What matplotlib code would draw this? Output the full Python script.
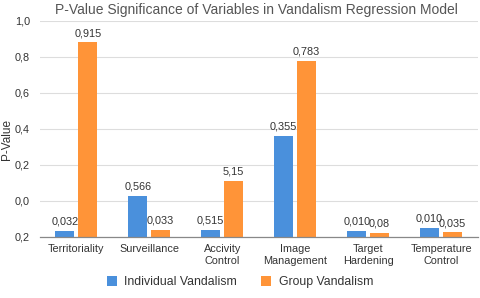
import numpy as np
import matplotlib
matplotlib.use('Agg')
import matplotlib.pyplot as plt

# ---------------------------------------------------------
# Data (bar heights as drawn, labels as printed)
# ---------------------------------------------------------
categories = ["Territoriality", "Surveillance", "Accivity\nControl",
              "Image\nManagement", "Target\nHardening", "Temperature\nControl"]
individual = [0.032, 0.228, 0.036, 0.559, 0.032, 0.050]
group = [1.080, 0.037, 0.311, 0.978, 0.022, 0.024]
individual_labels = ["0,032", "0,566", "0,515", "0,355", "0,010", "0,010"]
group_labels = ["0,915", "0,033", "5,15", "0,783", "0,08", "0,035"]
ytick_labels = ["0,2", "0,0", "0,2", "0,4", "0,6", "0,8", "1,0"]

plt.rcParams['font.family'] = ['Liberation Sans', 'DejaVu Sans']

blue = '#4a90dc'
orange = '#ff9438'
text_col = '#333333'

fig = plt.figure(figsize=(4.8, 2.98), dpi=100)
ax = fig.add_axes([0.083, 0.206, 0.912, 0.724])

x = np.arange(len(categories))
w = 0.26
off = 0.157
b1 = ax.bar(x - off, individual, w, color=blue, zorder=3)
b2 = ax.bar(x + off, group, w, color=orange, zorder=3)

for bars, labels in ((b1, individual_labels), (b2, group_labels)):
    for rect, lab in zip(bars, labels):
        ax.annotate(lab, (rect.get_x() + rect.get_width() / 2, rect.get_height()),
                    xytext=(0, 3), textcoords='offset points',
                    ha='center', va='bottom', fontsize=7.8, color=text_col)

ax.set_xlim(-0.5, len(categories) - 0.5)
ax.set_ylim(0, 1.2)
ax.set_yticks(np.linspace(0, 1.2, 7))
ax.set_yticklabels(ytick_labels)
ax.set_xticks(x)
ax.set_xticklabels(categories, fontsize=7.8, color=text_col, linespacing=1.25)
ax.tick_params(axis='y', length=0, labelsize=7.8, labelcolor=text_col, pad=7)
ax.tick_params(axis='x', length=0, pad=5)
ax.grid(axis='y', color='#dddddd', linewidth=0.8, zorder=0)
for s in ('top', 'right', 'left'):
    ax.spines[s].set_visible(False)
ax.spines['bottom'].set_color('#888888')
ax.spines['bottom'].set_linewidth(0.9)
ax.spines['bottom'].set_zorder(4)

ax.set_ylabel("P-Value", fontsize=8.5, color=text_col)
ax.yaxis.set_label_coords(-0.062, 0.45)
fig.text(0.535, 0.967, "P-Value Significance of Variables in Vandalism Regression Model",
         ha='center', va='center', fontsize=10, color='#555555')

fig.legend([b1, b2], ["Individual Vandalism", "Group Vandalism"],
           loc='center', bbox_to_anchor=(0.5, 0.053), ncol=2, frameon=False,
           fontsize=8.8, handlelength=0.8, handleheight=0.8, columnspacing=2.0,
           handletextpad=0.6, labelcolor=text_col)

fig.savefig('out.png', dpi=100)
